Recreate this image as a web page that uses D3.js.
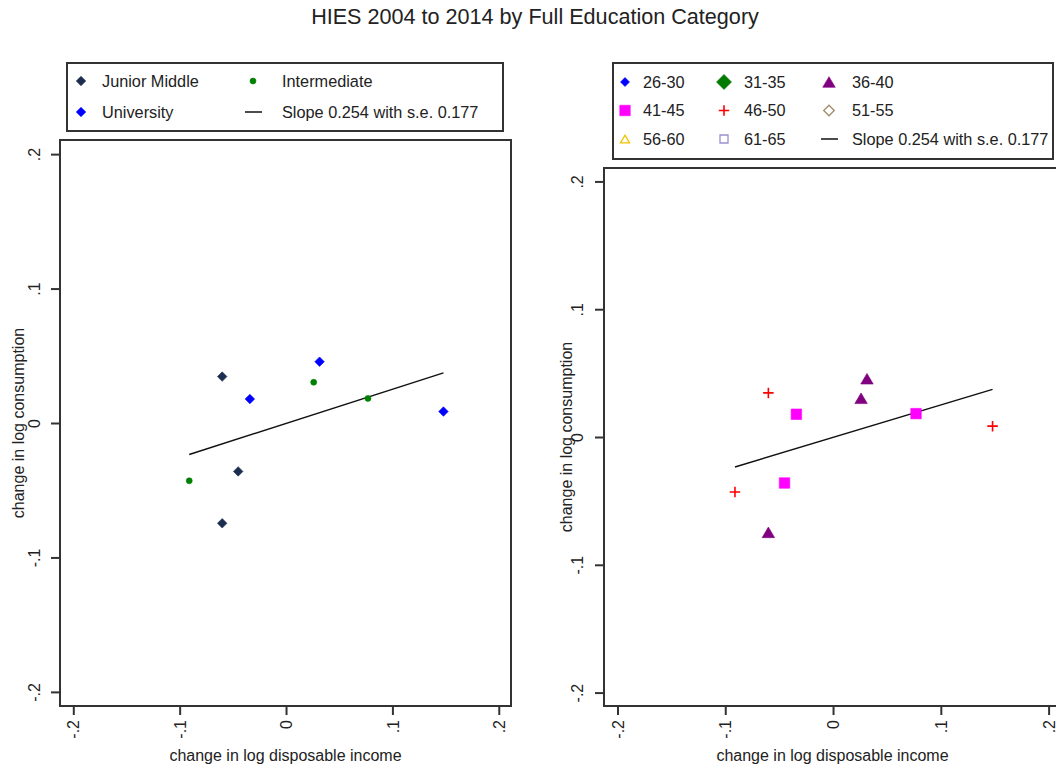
<!DOCTYPE html>
<html>
<head>
<meta charset="utf-8">
<script src="https://cdn.jsdelivr.net/npm/d3@7"></script>
<style>
  body { margin: 0; background: #fff; }
  svg { display: block; font-family: "Liberation Sans", Arial, sans-serif; }
</style>
</head>
<body>
<svg width="1056" height="766"></svg>
<script>
// data
var eduCategories = ["Junior Middle", "Intermediate", "University"];
var ageCategories = ["26-30", "31-35", "36-40", "41-45", "46-50", "51-55", "56-60", "61-65"];
var incomeChange = [-0.060, -0.045, -0.060, 0.0315, -0.034, 0.148, 0.026, 0.077, -0.091];
var consumptionChange = [0.0345, -0.036, -0.0746, 0.0456, 0.0178, 0.0085, 0.0303, 0.0183, -0.043];
var pointEdu = ["Junior Middle", "Junior Middle", "Junior Middle", "University", "University", "University", "Intermediate", "Intermediate", "Intermediate"];
var pointAge = ["46-50", "41-45", "36-40", "36-40", "41-45", "46-50", "36-40", "41-45", "46-50"];
var fitSlope = 0.254, fitSe = 0.177, fitIntercept = -0.0003;
var tickValues = [-0.2, -0.1, 0, 0.1, 0.2];
var tickLabels = ["-.2", "-.1", "0", ".1", ".2"];

var svg = d3.select("svg");

var points = incomeChange.map(function(x, i) {
  return {x: x, y: consumptionChange[i], edu: pointEdu[i], age: pointAge[i]};
});
var xExtent = d3.extent(incomeChange);

// marker styles (stata-ish)
var eduStyle = {
  "Junior Middle": {shape: "diamond", size: 9.5, color: "#1c2e50"},
  "Intermediate": {shape: "circle", size: 6, color: "#008000"},
  "University": {shape: "diamond", size: 9.5, color: "#0000ff"}
};
var ageStyle = {
  "26-30": {shape: "diamond", size: 9, color: "#0000ff"},
  "31-35": {shape: "diamond", size: 15, color: "#007a00"},
  "36-40": {shape: "triangle", size: 12.5, color: "#800080"},
  "41-45": {shape: "square", size: 10.5, color: "#ff00ff"},
  "46-50": {shape: "plus", size: 10.5, color: "#ff0000"},
  "51-55": {shape: "diamond", size: 10.5, color: "#a08c68", hollow: true},
  "56-60": {shape: "triangle", size: 9, color: "#f2c200", hollow: true},
  "61-65": {shape: "square", size: 8, color: "#9a90d0", hollow: true}
};

function markerPath(shape, s) {
  var h = s / 2;
  if (shape == "diamond") return "M0," + (-h) + "L" + h + ",0L0," + h + "L" + (-h) + ",0Z";
  if (shape == "square") return "M" + (-h) + "," + (-h) + "h" + s + "v" + s + "h" + (-s) + "Z";
  if (shape == "triangle") {
    var th = s * 0.85 / 2;
    return "M0," + (-th) + "L" + h + "," + th + "L" + (-h) + "," + th + "Z";
  }
  if (shape == "plus") return "M" + (-h) + ",0H" + h + "M0," + (-h) + "V" + h;
  // circle
  return "M" + h + ",0A" + h + "," + h + " 0 1,1 " + (-h) + ",0A" + h + "," + h + " 0 1,1 " + h + ",0Z";
}

function drawMarker(g, st, cx, cy) {
  var p = g.append("path")
    .attr("transform", "translate(" + cx + "," + cy + ")")
    .attr("d", markerPath(st.shape, st.size));
  if (st.shape == "plus") {
    p.attr("fill", "none").attr("stroke", st.color).attr("stroke-width", 1.6);
  } else if (st.hollow) {
    p.attr("fill", "none").attr("stroke", st.color).attr("stroke-width", 1.3);
  } else {
    p.attr("fill", st.color).attr("stroke", st.color).attr("stroke-width", 0.6);
  }
}

var slopeText = "Slope " + fitSlope + " with s.e. " + fitSe;

//panel layouts
var panels = [
  {left: 60, right: 511, top: 140, bottom: 706, yLabelX: 34, yTitleX: 18,
   styleOf: function(d) { return eduStyle[d.edu]; },
   legend: {x0: 67, y0: 63, x1: 503, y1: 131, rows: [81, 112], markerX: [81, 253], textX: [102, 282],
            items: eduCategories.map(function(c) { return {label: c, style: eduStyle[c]}; })}},
  {left: 604, right: 1061, top: 168, bottom: 706, yLabelX: 577, yTitleX: 566,
   styleOf: function(d) { return ageStyle[d.age]; },
   legend: {x0: 613, y0: 63, x1: 1053, y1: 159, rows: [82, 110.5, 139], markerX: [625, 724, 829], textX: [643, 744, 852],
            items: ageCategories.map(function(c) { return {label: c, style: ageStyle[c]}; })}}
];

panels.forEach(function(p) {
  var x = d3.scaleLinear().domain([-0.2125, 0.2115]).range([p.left, p.right]);
  var y = d3.scaleLinear().domain([-0.2105, 0.2105]).range([p.bottom, p.top]);

  // frame
  svg.append("rect")
    .attr("x", p.left).attr("y", p.top)
    .attr("width", p.right - p.left).attr("height", p.bottom - p.top)
    .attr("fill", "#fff").attr("stroke", "#333").attr("stroke-width", 2);

  // x axis
  var gx = svg.append("g")
    .attr("transform", "translate(0," + p.bottom + ")")
    .call(d3.axisBottom(x).tickValues(tickValues).tickSize(9).tickSizeOuter(0)
      .tickFormat(function(d, i) { return tickLabels[i]; }));
  gx.select(".domain").remove();
  gx.selectAll(".tick line").attr("stroke", "#333").attr("stroke-width", 2);
  gx.selectAll(".tick text")
    .attr("transform", "translate(0,14) rotate(-90)")
    .attr("x", 0).attr("y", 0).attr("dy", "0.35em")
    .attr("text-anchor", "end")
    .style("font-size", "16px").attr("fill", "#222");

  // y axis
  var gy = svg.append("g")
    .attr("transform", "translate(" + p.left + ",0)")
    .call(d3.axisLeft(y).tickValues(tickValues).tickSize(9).tickSizeOuter(0)
      .tickFormat(function(d, i) { return tickLabels[i]; }));
  gy.select(".domain").remove();
  gy.selectAll(".tick line").attr("stroke", "#333").attr("stroke-width", 2);
  gy.selectAll(".tick text")
    .attr("transform", "translate(" + (p.yLabelX - p.left) + ",0) rotate(-90)")
    .attr("x", 0).attr("y", 0).attr("dy", "0.35em")
    .attr("text-anchor", "middle")
    .style("font-size", "16px").attr("fill", "#222");

  // axis titles
  svg.append("text")
    .attr("x", (p.left + p.right) / 2).attr("y", 761)
    .attr("text-anchor", "middle").style("font-size", "16px").attr("fill", "#222")
    .text("change in log disposable income");
  svg.append("text")
    .attr("transform", "translate(" + p.yTitleX + "," + y(0) + ") rotate(-90)")
    .attr("dy", "0.35em")
    .attr("text-anchor", "middle").style("font-size", "16px").attr("fill", "#222")
    .text("change in log consumption");

  // fit line
  svg.append("line")
    .attr("x1", x(xExtent[0])).attr("y1", y(fitIntercept + fitSlope * xExtent[0]))
    .attr("x2", x(xExtent[1])).attr("y2", y(fitIntercept + fitSlope * xExtent[1]))
    .attr("stroke", "#111").attr("stroke-width", 1.5);

  // points
  var gp = svg.append("g");
  points.forEach(function(d) {
    drawMarker(gp, p.styleOf(d), x(d.x), y(d.y));
  });

  // legend
  var L = p.legend;
  var gl = svg.append("g");
  gl.append("rect")
    .attr("x", L.x0).attr("y", L.y0).attr("width", L.x1 - L.x0).attr("height", L.y1 - L.y0)
    .attr("fill", "#fff").attr("stroke", "#333").attr("stroke-width", 2);
  var items = L.items.concat([{label: slopeText, line: true}]);
  var ncol = L.markerX.length;
  items.forEach(function(it, i) {
    var r = Math.floor(i / ncol), c = i % ncol;
    var cy = L.rows[r];
    if (it.line) {
      gl.append("line")
        .attr("x1", L.markerX[c] - 8).attr("x2", L.markerX[c] + 9)
        .attr("y1", cy).attr("y2", cy)
        .attr("stroke", "#111").attr("stroke-width", 1.5);
    } else {
      drawMarker(gl, it.style, L.markerX[c], cy);
    }
    gl.append("text")
      .attr("x", L.textX[c]).attr("y", cy).attr("dy", "0.35em")
      .style("font-size", "16.3px").attr("fill", "#222")
      .text(it.label);
  });
});

// title
svg.append("text")
  .attr("x", 535).attr("y", 24)
  .attr("text-anchor", "middle")
  .style("font-size", "21.6px").attr("fill", "#222")
  .text("HIES 2004 to 2014 by Full Education Category");
</script>
</body>
</html>
